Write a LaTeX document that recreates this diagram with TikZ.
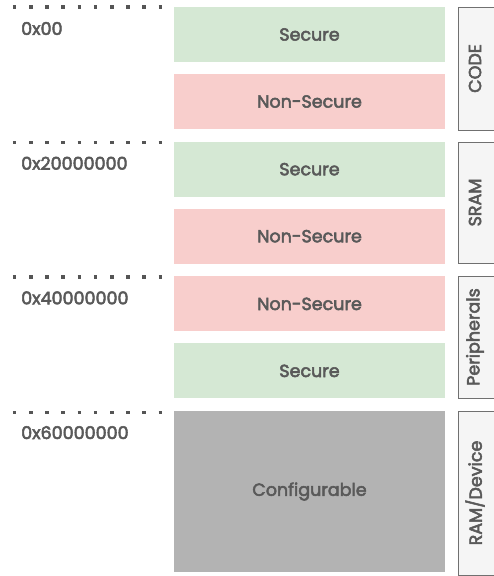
\documentclass[tikz,border=0pt]{standalone}
\usepackage{fontspec}
\setmainfont{Poppins}
\newfontfamily\mapfont[FakeBold=3]{Poppins}
\usepackage{xcolor}
\usetikzlibrary{positioning}

\definecolor{secgreen}{HTML}{D5E8D4}
\definecolor{nsred}{HTML}{F8CECC}
\definecolor{cfggray}{HTML}{B3B3B3}
\definecolor{txtgray}{HTML}{595959}
\definecolor{boxfill}{HTML}{F5F5F5}
\definecolor{boxline}{HTML}{707070}
\definecolor{dotgray}{HTML}{555555}

\tikzset{
  blk/.style={minimum width=271pt, minimum height=55pt, inner sep=0pt,
    text=txtgray, font=\mapfont\fontsize{17.5}{20}\selectfont},
  secblk/.style={blk, fill=secgreen},
  nsblk/.style={blk, fill=nsred},
  cfgblk/.style={blk, fill=cfggray, minimum height=161pt},
  addr/.style={anchor=west, inner sep=0pt, text=txtgray, font=\mapfont\fontsize{17.5}{20}\selectfont},
  regbox/.style={draw=boxline, fill=boxfill, line width=1pt},
  regtxt/.style={rotate=90, inner sep=0pt, text=txtgray, font=\mapfont\fontsize{17.5}{20}\selectfont},
  sep/.style={draw=dotgray, line width=3.5pt, dash pattern=on 3.5pt off 12.7pt}
}

\begin{document}
\begin{tikzpicture}[x=1pt, y=-1pt]
\useasboundingbox (0,0) rectangle (494,576);
\clip (0,0) rectangle (494,576);

% Region separators
\foreach \y in {7.2, 142.3, 277, 412.6} {
  \draw[sep] (12.8,\y) -- (165,\y);
}

% Start addresses
\node[addr] (a0) at (21,28.5) {0x00};
\node[addr] (a2) at (21,163.2) {0x20000000};
\node[addr] (a4) at (21,297.9) {0x40000000};
\node[addr] (a6) at (21,432.6) {0x60000000};

% Security blocks
\node[secblk] (codes) at (309.5,34.5) {Secure};
\node[nsblk] (codens) at (309.5,101.5) {Non-Secure};
\node[secblk] (srams) at (309.5,169.2) {Secure};
\node[nsblk] (sramns) at (309.5,236.2) {Non-Secure};
\node[nsblk] (perins) at (309.5,303.9) {Non-Secure};
\node[secblk] (peris) at (309.5,370.9) {Secure};
\node[cfgblk] (ramdev) at (309.5,491.5) {Configurable};

% Region labels
\draw[regbox] (458.5,7) rectangle (510,130);
\draw[regbox] (458.5,142) rectangle (510,263);
\draw[regbox] (458.5,276.5) rectangle (510,398);
\draw[regbox] (458.5,411.5) rectangle (510,575);
\node[regtxt] (code) at (475,68.5) {CODE};
\node[regtxt] (sram) at (475,202.5) {SRAM};
\node[regtxt] (peri) at (475,337) {Peripherals};
\node[regtxt] (ramd) at (475,493) {RAM/Device};
\end{tikzpicture}
\end{document}
